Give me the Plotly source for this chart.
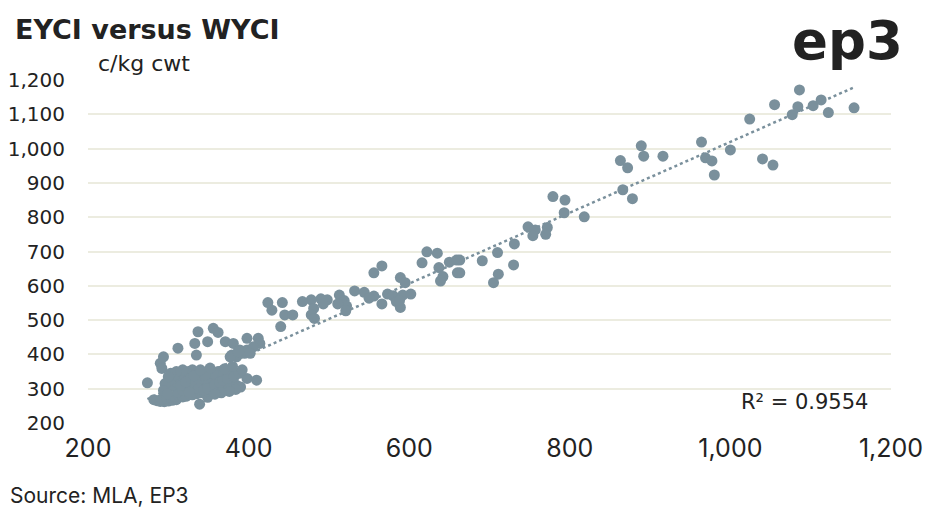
import numpy as np
import plotly.graph_objects as go

# WYCI (x) and EYCI (y), c/kg cwt
wyci_upper = [863, 872, 889, 892, 916, 866, 878, 964, 969, 977, 980, 1000, 1024, 1040, 1053,
              1055, 1077, 1084, 1086, 1103, 1113, 1122, 1154]
eyci_upper = [965, 944, 1008, 978, 978, 880, 854, 1019, 973, 964, 923, 996, 1086, 970, 952,
              1128, 1099, 1122, 1171, 1125, 1142, 1105, 1119]

wyci_mid = [779, 794, 793, 818, 748, 757, 772, 754, 770, 731, 710, 691, 663, 663, 711, 730, 705,
            622, 635, 616, 637, 650, 659, 660, 642, 639, 556, 566, 589, 595, 532, 544, 556, 550,
            566, 573, 580, 584, 589, 592, 602, 588, 513, 519, 522, 521, 511, 498, 490, 493, 478,
            467, 481, 478, 482, 424, 429, 442, 445, 455, 440]
eyci_mid = [860, 850, 813, 801, 772, 763, 770, 746, 750, 722, 697, 673, 675, 638, 634, 661, 609,
            699, 695, 667, 653, 669, 675, 638, 627, 614, 638, 658, 624, 609, 585, 581, 570, 564,
            547, 576, 571, 554, 537, 573, 576, 557, 573, 557, 541, 527, 547, 559, 562, 547, 559,
            554, 534, 515, 505, 551, 529, 551, 515, 515, 481]

wyci_low = [274, 290, 294, 312, 335, 337, 356, 362, 333, 349, 371, 398, 410, 339, 349, 381, 398,
            412, 414, 389, 398, 406, 379, 385, 395, 402, 377, 387, 292]
eyci_low = [317, 374, 393, 418, 398, 466, 476, 464, 432, 437, 437, 330, 325, 255, 275, 432, 447,
            447, 432, 413, 413, 422, 398, 393, 403, 403, 393, 408, 359]

wyci_cluster = [282, 286, 290, 295, 300, 305, 310, 292, 298, 303, 308, 313, 318, 322, 327, 330,
                335, 340, 345, 350, 355, 312, 318, 324, 330, 336, 342, 348, 354, 360, 366, 372,
                378, 300, 305, 310, 315, 320, 325, 330, 335, 340, 345, 350, 355, 360, 365, 370,
                375, 380, 385, 390, 302, 308, 296, 294, 299, 316, 322, 328, 334, 338, 344, 349,
                358, 364, 368, 374, 382, 388, 392, 362, 356, 346, 332, 326, 340, 352, 370, 380,
                318, 310, 303, 384, 376, 366, 358, 300]
eyci_cluster = [268, 265, 263, 262, 264, 266, 268, 270, 272, 275, 278, 280, 276, 278, 283, 282,
                285, 288, 290, 292, 294, 290, 295, 300, 305, 310, 315, 320, 325, 330, 335, 340,
                345, 300, 310, 320, 330, 340, 350, 355, 345, 335, 325, 315, 305, 298, 296, 305,
                315, 320, 310, 305, 325, 340, 315, 295, 285, 310, 320, 330, 322, 300, 296, 300,
                312, 318, 325, 330, 335, 345, 355, 350, 345, 340, 338, 290, 355, 360, 358, 365,
                355, 350, 345, 298, 292, 288, 284, 335]

wyci = wyci_upper + wyci_mid + wyci_low + wyci_cluster
eyci = eyci_upper + eyci_mid + eyci_low + eyci_cluster

x_ticks = [200, 400, 600, 800, 1000, 1200]
y_ticks = [200, 300, 400, 500, 600, 700, 800, 900, 1000, 1100, 1200]
r2_label = "R² = 0.9554"

marker_color = "#7A909C"
text_color = "#222222"

xa = np.array(wyci, dtype=float)
ya = np.array(eyci, dtype=float)
slope, intercept = np.polyfit(xa, ya, 1)
tx = np.array([xa.min(), xa.max()])
ty = slope * tx + intercept

# page offset (default body margin of the html page)
OFF = 8
FW, FH = 933 - OFF, 512 - OFF
# plot area in page pixels
L, R, T, B = 88, 891, 80, 423
W, H = R - L, B - T

def px(x):
    return (x - L) / W

def py(y):
    return (B - y) / H

fig = go.Figure()
fig.add_trace(go.Scatter(
    x=tx, y=ty, mode="lines",
    line=dict(color=marker_color, width=2.5, dash="dot"),
    hoverinfo="skip", showlegend=False,
))
fig.add_trace(go.Scatter(
    x=wyci, y=eyci, mode="markers",
    marker=dict(color=marker_color, size=11, line=dict(width=0)),
    showlegend=False,
))

fig.update_layout(
    width=FW, height=FH,
    margin=dict(l=L - OFF, r=933 - R, t=T - OFF, b=512 - B, autoexpand=False),
    paper_bgcolor="white", plot_bgcolor="white",
    font=dict(family="Inter, sans-serif", color=text_color),
    xaxis=dict(
        range=[200, 1200], tickvals=x_ticks, tickformat=",",
        showgrid=False, zeroline=False, showline=False, ticks="",
        tickfont=dict(family="Inter, sans-serif", size=25, color=text_color),
        ticklabelstandoff=8, automargin=False,
    ),
    yaxis=dict(
        range=[200, 1200], tickvals=y_ticks, tickformat=",",
        showgrid=True, gridcolor="#ECECE0", gridwidth=2,
        zeroline=False, showline=False, ticks="",
        tickfont=dict(family="DejaVu Sans, sans-serif", size=20, color=text_color),
        ticklabelstandoff=22, automargin=False,
    ),
    annotations=[
        dict(text="<b>EYCI versus WYCI</b>", xref="paper", yref="paper",
             x=px(13), y=py(30), xanchor="left", yanchor="middle",
             showarrow=False,
             font=dict(size=27, family="DejaVu Sans, sans-serif", color=text_color)),
        dict(text="c/kg cwt", xref="paper", yref="paper",
             x=px(96), y=py(64), xanchor="left", yanchor="middle",
             showarrow=False, font=dict(size=22, family="DejaVu Sans, sans-serif", color=text_color)),
        dict(text="<b>ep3</b>", xref="paper", yref="paper",
             x=px(905), y=py(41), xanchor="right", yanchor="middle",
             showarrow=False, font=dict(size=53, family="DejaVu Sans, sans-serif", color=text_color)),
        dict(text=r2_label, xref="paper", yref="paper",
             x=px(870), y=py(402), xanchor="right", yanchor="middle",
             showarrow=False, font=dict(size=21, family="DejaVu Sans, sans-serif", color=text_color)),
        dict(text="Source: MLA, EP3", xref="paper", yref="paper",
             x=px(8), y=py(495), xanchor="left", yanchor="middle",
             showarrow=False,
             font=dict(size=21, family="Inter, sans-serif", color=text_color)),
    ],
)

fig.write_html("out.html")
